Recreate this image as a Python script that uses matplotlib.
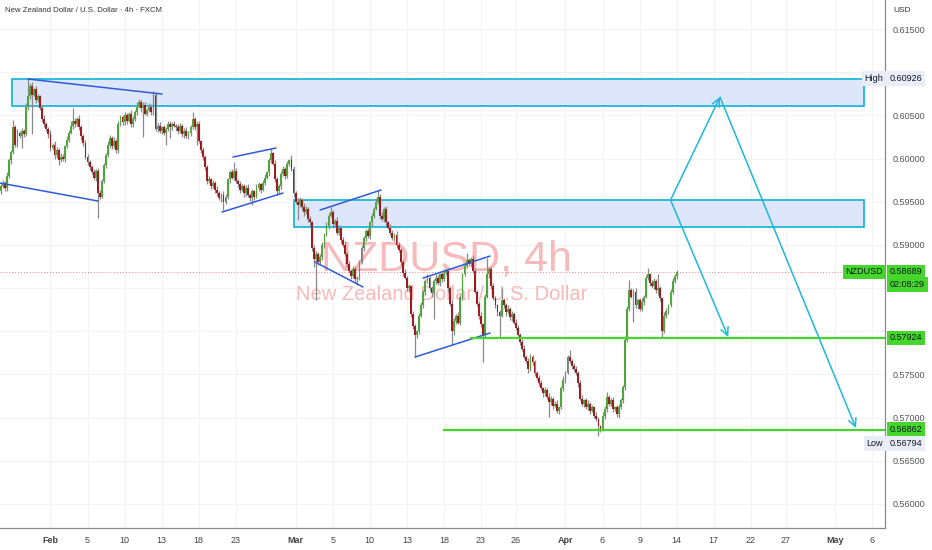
import matplotlib
matplotlib.use("Agg")
import matplotlib.pyplot as plt
import numpy as np

plt.rcParams['font.family'] = ['Liberation Sans', 'DejaVu Sans']

# --- data (prices in pips, 1 pip = 0.0001) ---
PIP = 0.0001
first_open = 5962
closes = [
    5968, 5972, 5966, 5980, 5998, 6008, 6036, 6016, 6030, 6026,
    6032, 6028, 6060, 6072, 6084, 6074, 6080, 6068, 6072, 6058,
    6046, 6040, 6034, 6028, 6012, 6016, 6004, 6010, 5998, 6002,
    6000, 6014, 6022, 6030, 6038, 6044, 6040, 6046, 6036, 6026,
    6018, 6002, 5996, 5990, 5984, 5978, 5986, 5960, 5956, 5974,
    5992, 6004, 6016, 6024, 6014, 6020, 6010, 6040, 6048, 6042,
    6050, 6044, 6052, 6040, 6046, 6054, 6060, 6066, 6058, 6062,
    6052, 6056, 6060, 6054, 6074, 6034, 6038, 6032, 6036, 6030,
    6034, 6040, 6036, 6040, 6038, 6036, 6032, 6038, 6028, 6032,
    6026, 6030, 6036, 6046, 6036, 6040, 6020, 6010, 6002, 5990,
    5974, 5976, 5968, 5972, 5964, 5960, 5954, 5958, 5950, 5956,
    5976, 5984, 5978, 5986, 5974, 5970, 5964, 5968, 5960, 5966,
    5958, 5954, 5962, 5956, 5966, 5970, 5964, 5972, 5978, 5984,
    5998, 6006, 5994, 5976, 5962, 5968, 5982, 5988, 5980, 5994,
    5998, 5988, 5960, 5950, 5946, 5952, 5944, 5938, 5942, 5930,
    5926, 5896, 5884, 5890, 5880, 5886, 5900, 5912, 5922, 5934,
    5938, 5924, 5928, 5914, 5920, 5906, 5900, 5890, 5878, 5870,
    5864, 5872, 5860, 5862, 5880, 5896, 5908, 5916, 5910, 5926,
    5934, 5942, 5950, 5956, 5934, 5930, 5942, 5926, 5920, 5914,
    5908, 5912, 5900, 5894, 5880, 5868, 5862, 5850, 5852, 5820,
    5806, 5796, 5800, 5818, 5830, 5846, 5858, 5862, 5850, 5844,
    5858, 5862, 5856, 5866, 5860, 5868, 5870, 5850, 5832, 5800,
    5812, 5818, 5810, 5840, 5866, 5876, 5882, 5878, 5884, 5870,
    5846, 5832, 5818, 5808, 5796, 5840, 5866, 5872, 5852, 5838,
    5830, 5822, 5818, 5836, 5830, 5822, 5826, 5816, 5820, 5810,
    5804, 5796, 5788, 5780, 5770, 5766, 5756, 5770, 5764, 5752,
    5746, 5740, 5734, 5728, 5732, 5724, 5718, 5722, 5714, 5716,
    5708, 5712, 5734, 5744, 5752, 5770, 5766, 5760, 5756, 5752,
    5740, 5722, 5716, 5720, 5712, 5716, 5708, 5712, 5702, 5698,
    5690, 5686, 5702, 5710, 5724, 5716, 5720, 5710, 5712, 5704,
    5712, 5720, 5736, 5790, 5826, 5848, 5840, 5846, 5830, 5836,
    5826, 5834, 5840, 5862, 5866, 5856, 5852, 5858, 5848, 5850,
    5838, 5800, 5818, 5824, 5830, 5846, 5858, 5864, 5869,
]
wick_up = [
    2, 3, 2, 4, 3, 2, 9, 3, 4, 2,
    3, 2, 4, 21, 3, 5, 2, 4, 3, 2,
    3, 4, 2, 3, 5, 2, 4, 3, 2, 4,
    3, 2, 4, 3, 5, 14, 3, 2, 4, 3,
    2, 4, 3, 2, 3, 4, 2, 3, 4, 2,
    3, 2, 4, 3, 2, 5, 3, 4, 2, 3,
    4, 3, 2, 4, 3, 2, 5, 3, 2, 4,
    3, 2, 4, 3, 4, 2, 3, 4, 2, 3,
    2, 3, 4, 2, 3, 2, 4, 3, 2, 3,
    4, 2, 3, 8, 2, 3, 4, 2, 3, 2,
    3, 4, 2, 3, 2, 4, 3, 2, 4, 3,
    2, 3, 4, 10, 3, 2, 4, 3, 2, 3,
    4, 2, 3, 2, 4, 3, 2, 3, 4, 2,
    3, 6, 2, 4, 3, 2, 4, 3, 2, 3,
    2, 6, 3, 2, 4, 3, 2, 4, 3, 2,
    3, 2, 4, 3, 2, 4, 3, 2, 4, 3,
    6, 3, 2, 4, 3, 2, 3, 4, 2, 3,
    2, 4, 3, 2, 3, 4, 2, 3, 4, 2,
    3, 2, 4, 8, 3, 4, 2, 3, 2, 4,
    3, 2, 4, 3, 2, 3, 4, 2, 3, 2,
    4, 3, 2, 3, 4, 2, 3, 4, 2, 3,
    2, 4, 3, 2, 3, 4, 2, 3, 2, 4,
    3, 2, 4, 3, 2, 3, 9, 3, 2, 4,
    3, 2, 3, 4, 2, 3, 19, 3, 2, 4,
    3, 2, 3, 14, 2, 3, 4, 2, 3, 2,
    4, 3, 2, 3, 4, 2, 3, 4, 2, 3,
    2, 3, 4, 2, 3, 2, 4, 3, 2, 3,
    4, 2, 3, 4, 2, 3, 8, 2, 3, 4,
    2, 3, 4, 2, 3, 4, 2, 3, 2, 4,
    3, 2, 4, 3, 6, 2, 3, 4, 2, 3,
    4, 3, 2, 4, 3, 11, 2, 3, 4, 2,
    3, 4, 2, 3, 7, 2, 3, 4, 2, 16,
    3, 2, 4, 3, 2, 3, 4, 2, 2,
]
wick_dn = [
    3, 2, 4, 3, 2, 4, 3, 3, 3, 2,
    14, 3, 2, 4, 3, 46, 2, 4, 3, 2,
    4, 3, 2, 4, 3, 2, 4, 3, 5, 2,
    3, 4, 2, 3, 2, 4, 3, 2, 3, 4,
    3, 2, 4, 3, 2, 3, 4, 29, 3, 2,
    2, 3, 2, 4, 3, 2, 4, 3, 2, 3,
    3, 4, 2, 3, 4, 2, 3, 2, 4, 33,
    2, 3, 2, 4, 3, 2, 3, 2, 4, 3,
    14, 2, 12, 3, 2, 4, 3, 2, 3, 4,
    2, 3, 4, 2, 3, 20, 2, 3, 4, 3,
    4, 2, 3, 2, 4, 3, 2, 4, 10, 3,
    3, 4, 2, 3, 2, 3, 4, 2, 5, 3,
    2, 3, 8, 4, 2, 3, 4, 2, 3, 2,
    4, 3, 2, 3, 4, 2, 3, 2, 4, 3,
    3, 2, 4, 3, 17, 2, 3, 4, 2, 3,
    4, 3, 10, 48, 3, 2, 4, 3, 2, 3,
    2, 4, 3, 2, 3, 4, 2, 3, 4, 2,
    3, 2, 4, 6, 3, 2, 3, 4, 2, 3,
    4, 3, 2, 3, 4, 2, 3, 4, 2, 3,
    2, 4, 3, 2, 3, 4, 2, 3, 4, 3,
    3, 26, 4, 3, 2, 3, 4, 2, 3, 4,
    30, 3, 2, 4, 3, 2, 3, 4, 3, 16,
    4, 3, 2, 3, 4, 2, 3, 2, 4, 3,
    2, 3, 4, 3, 32, 3, 2, 4, 3, 2,
    3, 4, 25, 2, 3, 4, 2, 3, 4, 2,
    3, 2, 4, 3, 2, 3, 4, 2, 3, 4,
    2, 3, 2, 4, 3, 2, 17, 3, 4, 2,
    3, 4, 2, 3, 4, 2, 3, 4, 2, 3,
    4, 2, 3, 4, 2, 3, 4, 2, 3, 2,
    11, 3, 2, 4, 3, 2, 3, 4, 2, 3,
    4, 2, 3, 4, 2, 3, 2, 29, 3, 4,
    2, 3, 4, 2, 3, 4, 2, 3, 4, 6,
    3, 7, 2, 3, 4, 2, 3, 2, 3,
]

# date ticks (candle index of each label)
date_idx = [24, 42, 60, 78, 96, 114, 143, 161, 179, 197, 215,
            233, 250, 274, 292, 310, 328, 346, 364, 381, 405, 423]
date_labels = ['Feb', '5', '10', '13', '18', '23', 'Mar', '5', '10', '13', '18',
               '23', '26', 'Apr', '6', '9', '14', '17', '22', '27', 'May', '6']

# price scale labels (the ones hidden behind tags are left out)
price_ticks = [0.560, 0.565, 0.570, 0.575, 0.590, 0.595, 0.600, 0.605, 0.615]

# levels
last_price = 0.58689
high_price = 0.60926
low_price = 0.56794
support_levels = [0.57924, 0.56862]
support_start = [228, 215]
zones = [(0.60605, 0.60926, 5.3), (0.59210, 0.59520, 142.2)]  # bottom, top, start idx

# drawn lines: (idx0, price0, idx1, price1)
trendlines = [
    (-0.5, 0.59717, 47.1, 0.59508),
    (13.1, 0.60921, 78.2, 0.60747),
    (107.3, 0.59381, 136.9, 0.59601),
    (112.6, 0.60018, 133.5, 0.60122),
    (154.9, 0.59404, 184.5, 0.59636),
    (152.4, 0.58802, 175.7, 0.58513),
    (204.9, 0.58617, 237.4, 0.58871),
    (201.0, 0.57702, 237.4, 0.57980),
]
arrows = [
    (325, 0.5952, 349, 0.60713),
    (349, 0.60713, 415, 0.5688),
    (325, 0.5952, 353, 0.57934),
]

GREEN = '#4ea53a'
RED = '#a01b20'
CYAN = '#1fb8d8'
LIME = '#45d62b'
BLUE = '#2f5bd8'

fig = plt.figure(figsize=(9.32, 5.5), dpi=100)
ax = fig.add_axes([0, 22 / 550, 885 / 932, 528 / 550])

c = np.array(closes) * PIP
o = np.concatenate([[first_open], closes[:-1]]) * PIP
hi = np.maximum(o, c) + np.array(wick_up) * PIP
lo = np.minimum(o, c) - np.array(wick_dn) * PIP
x = np.arange(len(c))
up = c >= o
body = np.maximum(np.abs(c - o), 0.00005)

ax.vlines(x, lo, hi, color='#8a8a8a', lw=0.9, zorder=3)
ax.bar(x[up], body[up], bottom=o[up], width=0.9, color=GREEN, lw=0, zorder=4)
ax.bar(x[~up], body[~up], bottom=c[~up], width=0.9, color=RED, lw=0, zorder=4)

# watermark
ax.text(216, 0.58709, 'NZDUSD, 4h', ha='center', va='baseline', fontsize=31,
        color='#f7b9b9', zorder=1)
ax.text(214, 0.58362, 'New Zealand Dollar / U.S. Dollar', ha='center', va='baseline',
        fontsize=14.5, color='#f7b9b9', zorder=1)

# zones
for bot, top, start in zones:
    ax.add_patch(plt.Rectangle((start, bot), 419 - start, top - bot, facecolor='#dde6fb',
                               edgecolor=CYAN, lw=1.3, zorder=2))

# trend lines
for x0, p0, x1, p1 in trendlines:
    ax.plot([x0, x1], [p0, p1], color=BLUE, lw=1.1, zorder=5, solid_capstyle='round')

# support lines
for lvl, start in zip(support_levels, support_start):
    ax.plot([start, 430], [lvl, lvl], color=LIME, lw=1.6, zorder=5)

# current price
ax.axhline(last_price, color='#f08080', lw=0.7, ls=(0, (1, 2)), zorder=2)

# arrows
for x0, p0, x1, p1 in arrows:
    ax.annotate('', xy=(x1, p1), xytext=(x0, p0),
                arrowprops=dict(arrowstyle='->', color=CYAN, lw=1.1, mutation_scale=14,
                                shrinkA=0, shrinkB=0), zorder=6)

ax.set_xlim(-0.485, 429.1)
ax.set_ylim(0.55722, 0.61836)

ax.set_yticks(price_ticks)
ax.set_yticklabels([f'{v:.5f}' for v in price_ticks])
ax.yaxis.tick_right()
ax.tick_params(axis='y', length=0, pad=5.5, labelsize=6.5, labelcolor='#555555')
ax.set_xticks(date_idx, date_labels)
ax.tick_params(axis='x', length=0, pad=6, labelsize=6.5, labelcolor='#444444')
for t in ax.get_xticklabels():
    if t.get_text() in ('Feb', 'Mar', 'Apr', 'May'):
        t.set_fontweight('bold')

ax.grid(True, color='#f3f3f3', lw=0.8)
for lvl in (0.580, 0.585, 0.610):
    ax.axhline(lvl, color='#f3f3f3', lw=0.8, zorder=0)
ax.set_axisbelow(True)
for s in ('top', 'left'):
    ax.spines[s].set_visible(False)
for s in ('right', 'bottom'):
    ax.spines[s].set_color('#8a8a8a')
    ax.spines[s].set_linewidth(0.9)

ytr = ax.get_yaxis_transform()


def axis_tag(price, text, fc):
    ax.text(1.0056, price, text, transform=ytr, ha='left', va='center', fontsize=6.5,
            color='#131722', bbox=dict(boxstyle='square,pad=0.3', fc=fc, ec='none'),
            clip_on=False, zorder=10)


def inner_tag(price, text, fc):
    ax.text(0.998, price, text, transform=ytr, ha='right', va='center', fontsize=6.5,
            color='#131722', bbox=dict(boxstyle='square,pad=0.3', fc=fc, ec='none'),
            clip_on=False, zorder=10)


axis_tag(high_price, f'{high_price:.5f}', '#e8edf7')
inner_tag(high_price, 'High', '#e8edf7')
axis_tag(last_price, f'{last_price:.5f}', LIME)
axis_tag(last_price - 0.00145, '02:08:29', LIME)
inner_tag(last_price, 'NZDUSD', LIME)
for lvl in support_levels:
    axis_tag(lvl, f'{lvl:.5f}', LIME)
axis_tag(low_price - 0.00092, f'{low_price:.5f}', '#e8edf7')
inner_tag(low_price - 0.00092, 'Low', '#e8edf7')

fig.text(5 / 932, 1 - 11 / 550, 'New Zealand Dollar / U.S. Dollar · 4h · FXCM',
         fontsize=5.6, color='#333333', va='center')
fig.text(893 / 932, 1 - 11 / 550, 'USD', fontsize=6, color='#333333', va='center')

fig.savefig('out.png', dpi=100, facecolor='white')
